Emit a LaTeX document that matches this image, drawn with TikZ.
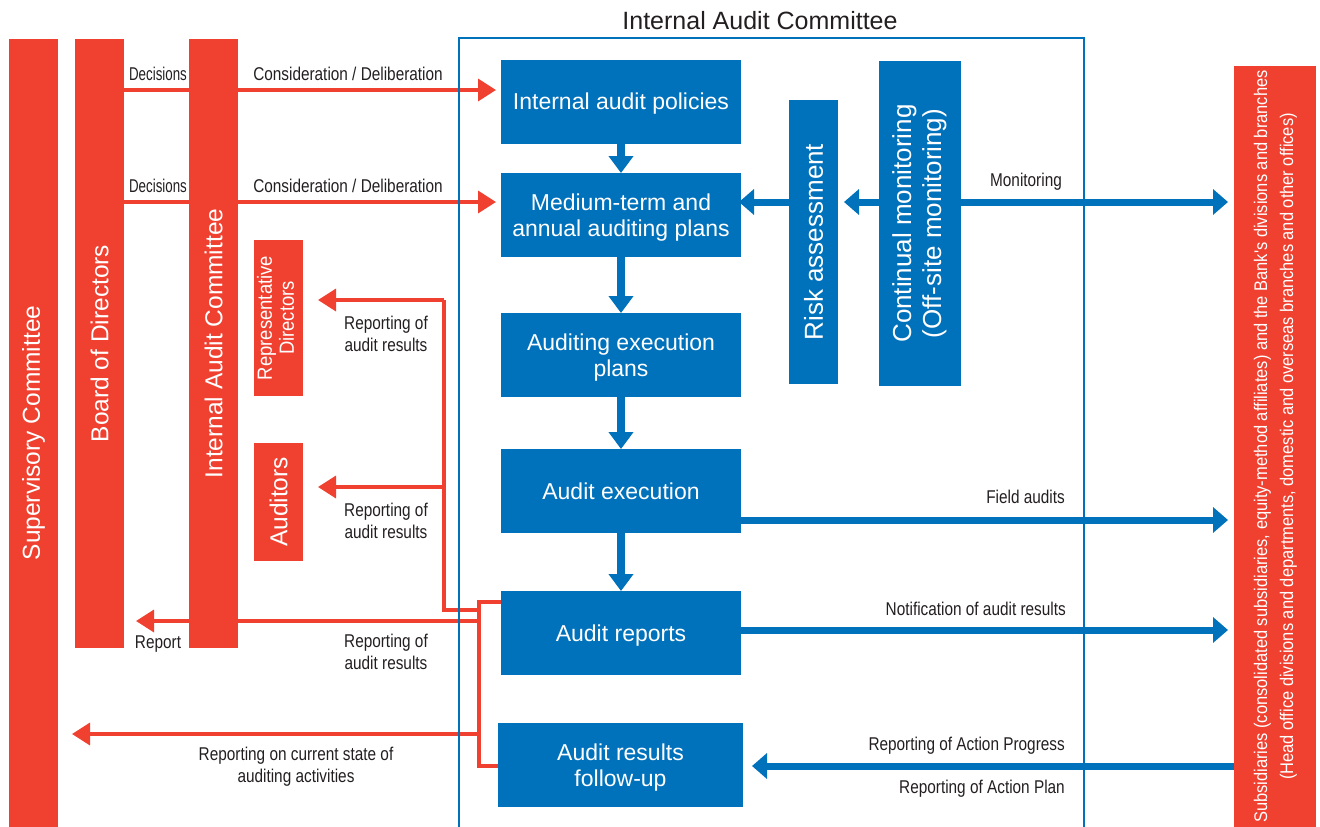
\documentclass[tikz,border=0pt]{standalone}
\usepackage{fontspec}
\usepackage{graphicx}
\setmainfont{Liberation Sans}
\newfontfamily\narrowfont[FakeStretch=0.83]{Liberation Sans}
\newfontfamily\tightfont[FakeStretch=0.72]{Liberation Sans}
\newfontfamily\condfont[FakeStretch=0.9]{Liberation Sans}
\usetikzlibrary{arrows.meta}
\definecolor{ored}{RGB}{239,64,48}
\definecolor{oblue}{RGB}{0,113,187}
\definecolor{txtgray}{RGB}{35,31,32}
\begin{document}
\begin{tikzpicture}[x=1pt,y=-1pt,
  redbar/.style={fill=ored,text=white,inner sep=0pt,outer sep=0pt,font=\fontsize{24.5}{29}\selectfont},
  bluebox/.style={fill=oblue,text=white,inner sep=0pt,outer sep=0pt,align=center,text depth=0pt,minimum width=240pt,minimum height=84pt,font=\fontsize{23}{26}\selectfont},
  bluebar/.style={fill=oblue,text=white,inner sep=0pt,outer sep=0pt,font=\fontsize{26}{30}\selectfont},
  lbl/.style={text=txtgray,inner sep=0pt,align=center,font=\narrowfont\fontsize{18.5}{22}\selectfont},
  declbl/.style={lbl,font=\tightfont\fontsize{18.5}{22}\selectfont},
  redline/.style={draw=ored,line width=3.5pt},
  redarrow/.style={redline,-{Triangle[length=18pt,width=22pt]}},
  bluearrow/.style={draw=oblue,line width=7pt,-{Triangle[length=15pt,width=25pt]}},
  downarrow/.style={draw=oblue,line width=8pt,-{Triangle[length=17pt,width=24pt]}}]
\useasboundingbox (0,0) rectangle (1320,827);
% red bodies
\node[redbar,minimum width=49pt,minimum height=788pt] (sup) at (33.5,433) {\rotatebox{90}{Supervisory Committee}};
\node[redbar,minimum width=49pt,minimum height=609pt] (bod) at (99.5,343.5) {\rotatebox{90}{Board of Directors}};
\node[redbar,minimum width=49pt,minimum height=609pt] (iac) at (213.5,343.5) {\rotatebox{90}{Internal Audit Committee}};
\node[redbar,minimum width=49pt,minimum height=156pt,font=\condfont\fontsize{20.5}{22}\selectfont] (repdir) at (278.5,318) {\rotatebox{90}{\begin{tabular}{@{}c@{}}Representative\\Directors\end{tabular}}};
\node[redbar,minimum width=49pt,minimum height=118pt] (aud) at (278.5,502) {\rotatebox{90}{Auditors}};
\node[redbar,minimum width=82pt,minimum height=761pt,font=\condfont\fontsize{18.3}{26}\selectfont] (sub) at (1275,446.5) {\rotatebox{90}{\begin{tabular}{@{}c@{}}Subsidiaries (consolidated subsidiaries, equity-method affiliates) and the Bank's divisions and branches\\(Head office divisions and departments, domestic and overseas branches and other offices)\end{tabular}}};
% audit flow
\node[bluebox] (pol) at (621,101.5) {Internal audit policies};
\node[bluebox] (plan) at (621,215) {Medium-term and\\annual auditing plans};
\node[bluebox] (exep) at (621,355) {Auditing execution\\plans};
\node[bluebox] (exe) at (621,491) {Audit execution};
\node[bluebox] (arep) at (621,633) {Audit reports};
\node[bluebox,minimum width=245pt] (fol) at (620.5,765) {Audit results\\follow-up};
\node[bluebar,minimum width=49pt,minimum height=284pt] (risk) at (813.5,242) {\rotatebox{90}{Risk assessment}};
\node[bluebar,minimum width=82pt,minimum height=325pt] (mon) at (920,223.5) {\rotatebox{90}{\begin{tabular}{@{}c@{}}Continual monitoring\\(Off-site monitoring)\end{tabular}}};
\node[text=txtgray,inner sep=0pt,font=\fontsize{25}{26}\selectfont] (title) at (760,21) {Internal Audit Committee};
% routing points
\coordinate (trunk) at (479,602);
\coordinate (trunkend) at (479,766);
\coordinate (branch) at (444,610);
\coordinate (branchtop) at (444,300);
% connectors
\foreach \a/\b in {pol/plan,plan/exep,exep/exe,exe/arep}
  \draw[downarrow] (\a.south) -- (\b.north);
\foreach \y/\b in {90/pol,202/plan}{
  \draw[redline] (bod.east |- 0,\y) -- (iac.west |- 0,\y);
  \draw[redarrow,shorten >=5pt] (iac.east |- 0,\y) -- (\b.west |- 0,\y);
}
\draw[redline] (arep.west |- trunk) -- (trunk) -- (trunkend) -- (fol.west |- trunkend);
\draw[redline] (trunk |- branch) -- (branch) -- (branchtop);
\draw[redarrow,shorten >=15pt] (branchtop) -- (repdir.east |- branchtop);
\draw[redarrow,shorten >=15pt] (branch |- 0,487) -- (aud.east |- 0,487);
\draw[redline] (trunk |- 0,621) -- (iac.east |- 0,621);
\draw[redarrow,shorten >=12pt] (iac.west |- 0,621) -- (bod.east |- 0,621);
\draw[redarrow,shorten >=14pt] (trunk |- 0,734) -- (sup.east |- 0,734);
\draw[bluearrow,shorten >=-2pt] (risk.west |- 0,202) -- (plan.east |- 0,202);
\draw[bluearrow,shorten >=6pt] (mon.west |- 0,202) -- (risk.east |- 0,202);
\draw[bluearrow,shorten >=6pt] (mon.east |- 0,202) -- (sub.west |- 0,202);
\draw[bluearrow,shorten >=6pt] (exe.east |- 0,520) -- (sub.west |- 0,520);
\draw[bluearrow,shorten >=6pt] (arep.east |- 0,630) -- (sub.west |- 0,630);
\draw[bluearrow,shorten >=9pt] (sub.west |- 0,766) -- (fol.east |- 0,766);
% labels
\node[declbl] (dec1) at (158,74) {Decisions};
\node[declbl] (dec2) at (158,186) {Decisions};
\node[lbl] (cons1) at (348,74) {Consideration / Deliberation};
\node[lbl] (cons2) at (348,186) {Consideration / Deliberation};
\node[lbl] (rres1) at (386,334) {Reporting of\\audit results};
\node[lbl] (rres2) at (386,521) {Reporting of\\audit results};
\node[lbl] (rres3) at (386,652) {Reporting of\\audit results};
\node[lbl] (rpt) at (158,644) {Report};
\node[lbl] (rstate) at (296,767) {Reporting on current state of\\auditing activities};
\node[lbl] (moni) at (1026,182) {Monitoring};
\node[lbl,anchor=east] (field) at (1065,497) {Field audits};
\node[lbl,anchor=east] (notif) at (1066,609) {Notification of audit results};
\node[lbl,anchor=east] (prog) at (1065,746) {Reporting of Action Progress};
\node[lbl,anchor=east] (aplan) at (1065,789) {Reporting of Action Plan};
% committee frame
\node[draw=oblue,line width=2pt,inner sep=0pt,minimum width=625pt,minimum height=800pt] (frame) at (771.5,438) {};
\end{tikzpicture}
\end{document}
